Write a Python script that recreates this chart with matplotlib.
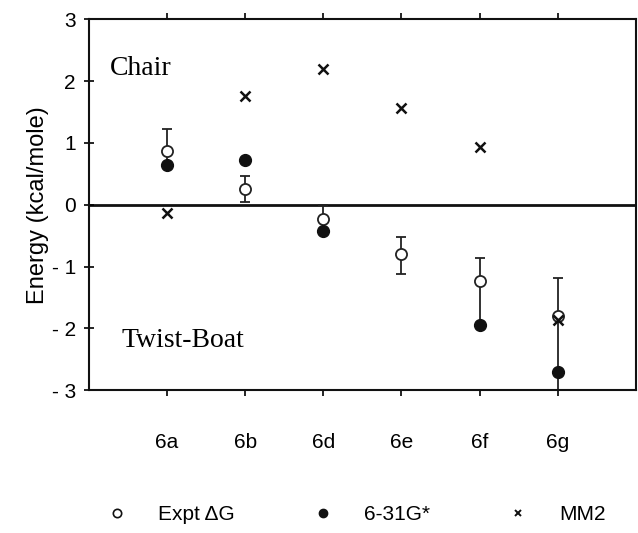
import numpy as np
import matplotlib.pyplot as plt
from matplotlib.lines import Line2D

# data
compounds = ['6a', '6b', '6d', '6e', '6f', '6g']
expt_dG = [0.86, 0.25, -0.23, -0.80, -1.23, -1.80]
expt_err_up = [0.37, 0.21, 0.23, 0.27, 0.37, 0.62]
expt_err_down = [0.2, 0.21, 0.2, 0.32, 0.72, 1.30]
b3_631 = [0.64, 0.73, -0.43, None, -1.95, -2.70]
mm2 = [-0.14, 1.76, 2.20, 1.56, 0.93, -1.86]
ytick_vals = [-3, -2, -1, 0, 1, 2, 3]
ytick_text = ['- 3', '- 2', '- 1', '0', '1', '2', '3']

plt.rcParams['font.family'] = ['Liberation Sans', 'DejaVu Sans']

fig = plt.figure(figsize=(6.38, 5.33), dpi=100)
ax = fig.add_axes([0.1395, 0.268, 0.857, 0.696])

x = np.arange(1, len(compounds) + 1)

ax.errorbar(x, expt_dG, yerr=[expt_err_down, expt_err_up], fmt='none',
            ecolor='#222222', elinewidth=1.3, capsize=3.5, capthick=1.3, zorder=2)
ax.plot(x, expt_dG, 'o', mfc='white', mec='#222222', mew=1.3, ms=8, zorder=3)

xf = [xi for xi, v in zip(x, b3_631) if v is not None]
yf = [v for v in b3_631 if v is not None]
ax.plot(xf, yf, 'o', color='#111111', ms=8.5, zorder=4)

ax.plot(x, mm2, 'x', color='#111111', ms=6.5, mew=1.8, zorder=5)

ax.axhline(0, color='#111111', lw=2.0, zorder=1)

ax.set_xlim(0, 7)
ax.set_ylim(-3, 3)
ax.set_xticks(x)
ax.set_xticklabels(compounds, fontsize=15)
ax.set_yticks(ytick_vals)
ax.set_yticklabels(ytick_text, fontsize=15)
ax.tick_params(axis='y', direction='inout', length=7, width=1.2, pad=6)
ax.tick_params(axis='x', direction='out', length=4, width=1.2, pad=27,
               top=True)
for s in ax.spines.values():
    s.set_linewidth(1.5)
    s.set_color('#111111')

ax.set_ylabel('Energy (kcal/mole)', fontsize=17, labelpad=2)

ax.text(0.27, 2.1, 'Chair', family='Liberation Serif', fontsize=20)
ax.text(0.42, -2.3, 'Twist-Boat', family='Liberation Serif', fontsize=20)

handles = [
    Line2D([], [], ls='none', marker='o', mfc='white', mec='#111111', mew=1.2, ms=6),
    Line2D([], [], ls='none', marker='o', color='#111111', ms=6),
    Line2D([], [], ls='none', marker='x', color='#111111', ms=5, mew=1.4),
]
fig.legend(handles, ['Expt \u0394G', '6-31G*', 'MM2'], loc='center',
           bbox_to_anchor=(0.55, 0.034), ncol=3, frameon=False, fontsize=15,
           columnspacing=3.2, handletextpad=1.0)

fig.savefig('out.png', dpi=100)
